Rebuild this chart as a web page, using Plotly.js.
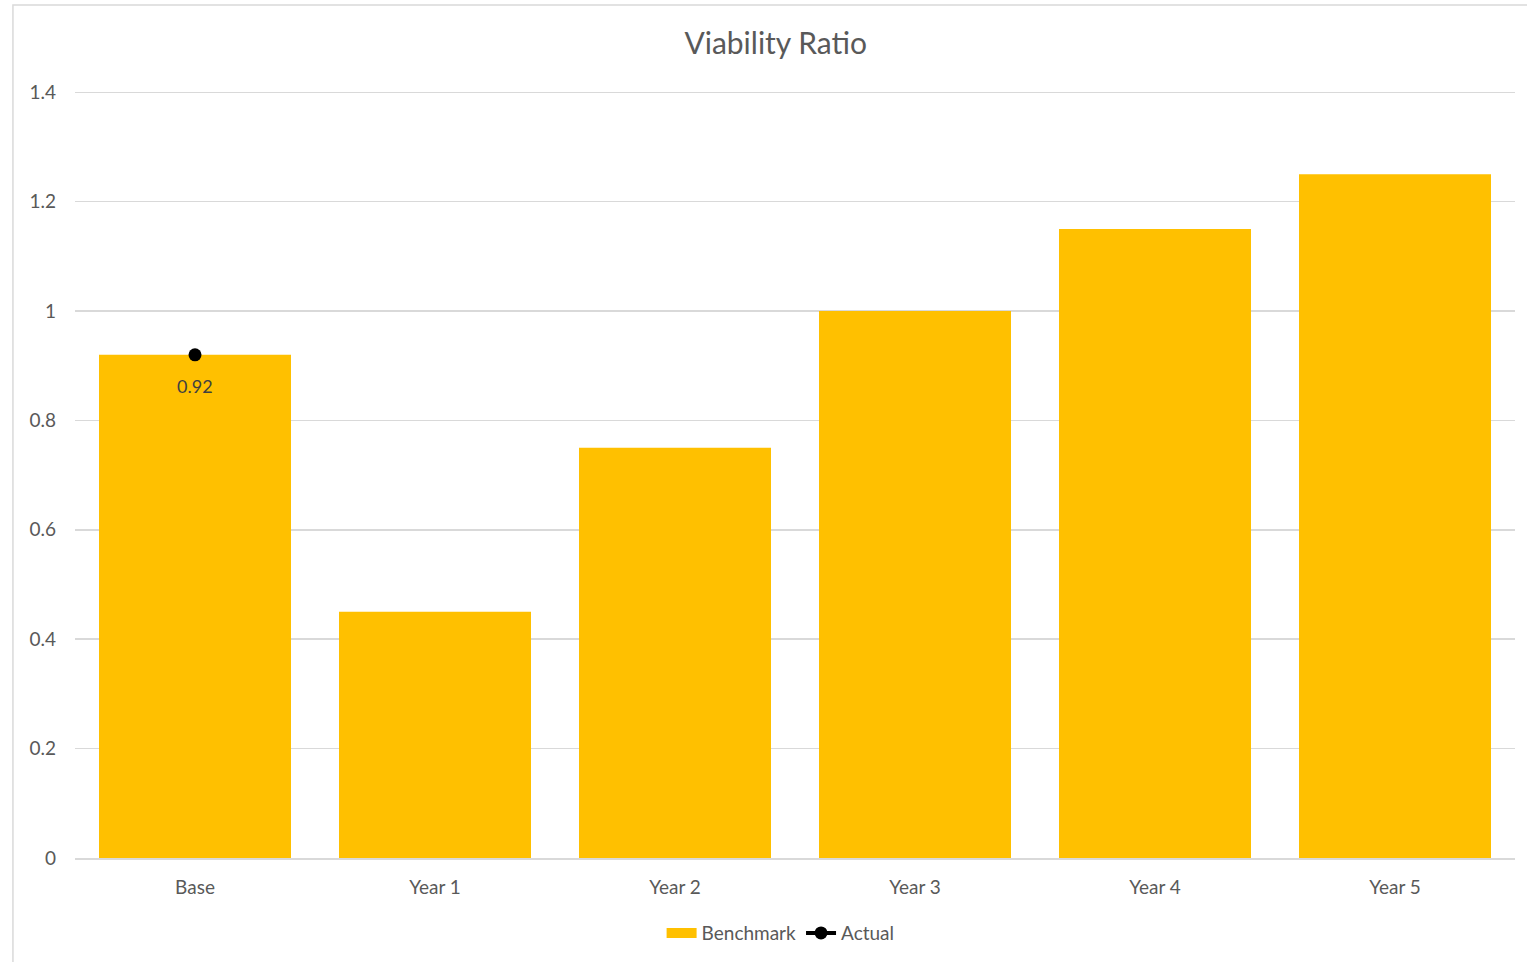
<!DOCTYPE html>
<html>
<head>
<meta charset="utf-8">
<script src="https://cdn.plot.ly/plotly-3.0.1.min.js"></script>
<style>html,body{margin:0;padding:0;background:#fff;}#chart{width:1527px;height:962px;}</style>
</head>
<body>
<div id="chart"></div>
<script>
const categories = ["Base", "Year 1", "Year 2", "Year 3", "Year 4", "Year 5"];
const benchmark = [0.92, 0.45, 0.75, 1.0, 1.15, 1.25];
const actual = [0.92, null, null, null, null, null];
const actualLabels = ["0.92", "", "", "", "", ""];
const yTicks = [0, 0.2, 0.4, 0.6, 0.8, 1, 1.2, 1.4];
const yTickText = ["0", "0.2", "0.4", "0.6", "0.8", "1", "1.2", "1.4"];

const FONT = "Lato, 'Open Sans', sans-serif";
const GOLD = "#FFC000";
const GRID = "#d9d9d9";
const data = [
  {
    type: "bar", name: "Benchmark", x: categories, y: benchmark,
    marker: {color: GOLD}, width: 0.8, showlegend: false
  },
  {
    type: "scatter", mode: "lines", name: "Benchmark",
    x: categories, y: categories.map(() => null),
    line: {color: GOLD, width: 12}, showlegend: true
  },
  {
    type: "scatter", mode: "lines+markers", name: "Actual",
    x: categories, y: actual,
    line: {color: "#000000", width: 4},
    marker: {color: "#000000", size: 13},
    connectgaps: false
  }
];
const annotations = actual.map((v, i) => v === null ? null : {
  x: categories[i], y: v, xref: "x", yref: "y", text: actualLabels[i],
  showarrow: false, yshift: -31, font: {family: FONT, size: 18, color: "#404040"}
}).filter(a => a);

const topTick = yTicks[yTicks.length - 1];
const layout = {
  width: 1527, height: 962,
  margin: {l: 75, r: 12, t: 92, b: 104, autoexpand: false},
  paper_bgcolor: "#ffffff", plot_bgcolor: "#ffffff",
  font: {family: FONT, color: "#595959", size: 19},
  title: {text: "Viability Ratio", font: {family: FONT, size: 30, color: "#595959"},
          x: 0.508, xanchor: "center", y: 0.955, yanchor: "middle"},
  bargap: 0.2,
  xaxis: {
    type: "category", showgrid: false, showline: true, linecolor: GRID, linewidth: 1.5,
    ticks: "", tickfont: {family: FONT, size: 19, color: "#595959"}, ticklabelstandoff: 12,
    automargin: false
  },
  yaxis: {
    range: [0, 1.4005], tickvals: yTicks, ticktext: yTickText,
    showgrid: true, gridcolor: GRID, gridwidth: 1.5, zeroline: false,
    showline: false, ticks: "", ticklabelstandoff: 18, automargin: false,
    tickfont: {family: FONT, size: 19, color: "#595959"}
  },
  legend: {orientation: "h", x: 0.49, xanchor: "center", y: -0.098, yanchor: "middle",
           font: {family: FONT, size: 19, color: "#595959"}, traceorder: "normal"},
  annotations: annotations,
  shapes: [
    {
      type: "rect", xref: "paper", yref: "paper",
      x0: -0.0431, x1: 1.05, y0: -0.2, y1: 1.1136,
      line: {color: GRID, width: 1.5}, fillcolor: "rgba(0,0,0,0)", layer: "below"
    },
    {
      type: "line", xref: "paper", yref: "y", x0: 0, x1: 1, y0: topTick, y1: topTick,
      line: {color: GRID, width: 1.5}, layer: "below"
    }
  ],
  showlegend: true
};
Plotly.newPlot("chart", data, layout, {displayModeBar: false, staticPlot: true});
</script>
</body>
</html>
